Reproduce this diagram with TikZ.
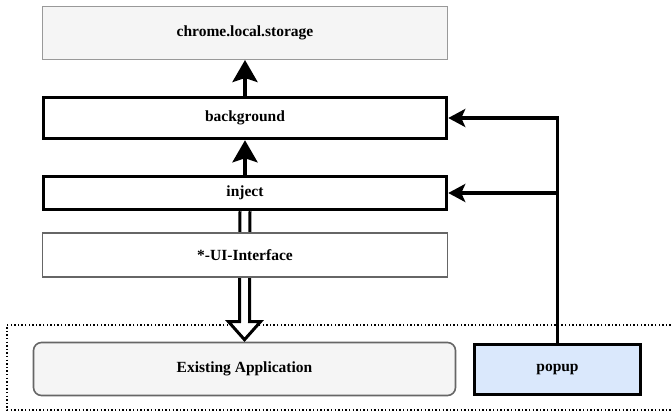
\documentclass[tikz,border=0pt]{standalone}
\usepackage{fontspec}
\setmainfont{Liberation Serif}
\usetikzlibrary{arrows.meta,calc}
\definecolor{boxgray}{HTML}{F5F5F5}
\definecolor{popblue}{HTML}{DAE8FC}
\definecolor{thinline}{HTML}{999999}
\definecolor{midline}{HTML}{666666}
\tikzset{
  lbl/.style={font=\fontsize{15.5}{18}\selectfont\bfseries, inner sep=0pt, align=center},
  thinbox/.style={lbl, draw=thinline, line width=1pt},
  thickbox/.style={lbl, draw=black, line width=3.5pt, fill=white},
  uibox/.style={lbl, draw=midline, line width=1.1pt, fill=white},
  appbox/.style={lbl, draw=midline, line width=1.6pt, fill=boxgray, rounded corners=8pt},
  vflow/.style={line width=3.5pt, -{Stealth[length=22pt,width=25pt,inset=4pt]}},
  hflow/.style={line width=3.3pt, -{Stealth[length=17pt,width=18pt,inset=4pt]}},
  groupframe/.style={draw=black, line width=1.4pt, dash pattern=on 1.4pt off 2.2pt},
}
\begin{document}
\begin{tikzpicture}[x=1pt,y=-1pt]
  \useasboundingbox (0,0) rectangle (671,414);

  % dotted frame round the host page
  \draw[groupframe] (678,325) -- (7,325) -- (7,410) -- (678,410);

  % boxes
  \node[thinbox, fill=boxgray, minimum width=405pt, minimum height=53pt] (store) at (245,33) {chrome.local.storage};
  \node[thickbox, minimum width=403pt, minimum height=41pt] (bg) at (245,118) {background};
  \node[thickbox, minimum width=403pt, minimum height=33pt] (inj) at (245,193) {inject};
  \node[appbox, minimum width=422pt, minimum height=53pt] (app) at (244.5,369) {Existing Application};
  \node[thickbox, fill=popblue, minimum width=166pt, minimum height=50pt] (popup) at (557.5,369.5) {popup};

  % hollow block arrow from inject down to the application
  \draw[line width=3pt, line join=miter, fill=white]
    ($(inj.south)+(-5,0)$) -- ($(app.north)+(-5,-20)$) -- ($(app.north)+(-16,-20)$)
    -- ($(app.north)+(0,-2)$)
    -- ($(app.north)+(16,-20)$) -- ($(app.north)+(5,-20)$) -- ($(inj.south)+(5,0)$);

  % interface layer sits on top of the block arrow
  \node[uibox, minimum width=405pt, minimum height=44pt] (ui) at (245,255) {*-UI-Interface};

  % data flow
  \draw[vflow] (bg.north) -- (store.south);
  \draw[vflow] (inj.north) -- (bg.south);
  \draw[hflow] (popup.north) |- (bg.east);
  \draw[hflow] (popup.north) |- (inj.east);
\end{tikzpicture}
\end{document}
